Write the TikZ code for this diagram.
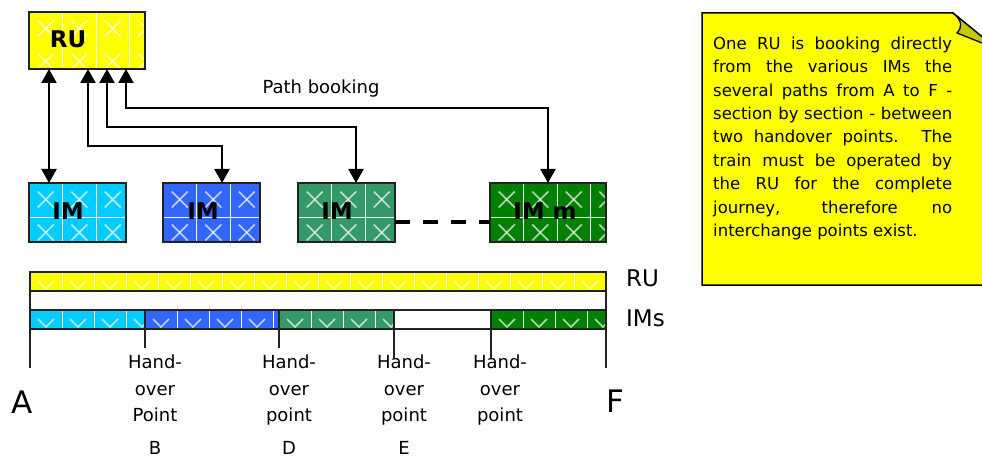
\documentclass[tikz,border=0pt]{standalone}
\usepackage{fontspec}
\setmainfont{DejaVu Sans}
\usetikzlibrary{arrows.meta,calc}
\definecolor{ruyel}{HTML}{FFFF00}
\definecolor{imcyan}{HTML}{00CCFF}
\definecolor{imblue}{HTML}{3366FF}
\definecolor{imsea}{HTML}{339966}
\definecolor{imgreen}{HTML}{008000}
\definecolor{foldc}{HTML}{C8C800}
\definecolor{edgec}{HTML}{222222}
\newcommand\boxpat[5]{%
  \begin{scope}
    \clip (#1,#2) rectangle (#3,#4);
    \foreach \k in {1,2,3,4}{\draw[gridln] ({#1+33.5*\k},#2) -- ({#1+33.5*\k},#4);}
    \ifnum#5=1 \draw[gridln] (#1,{#2+34}) -- (#3,{#2+34});\fi
    \foreach \k in {0,...,4}{\foreach \j in {0,1}{
      \draw[crossln] ({#1+16.75+33.5*\k-8},{#2+16.5+33*\j-8}) -- ++(16,16);
      \draw[crossln] ({#1+16.75+33.5*\k+8},{#2+16.5+33*\j-8}) -- ++(-16,16);}}
  \end{scope}}
\newcommand\barpat[4]{%
  \begin{scope}
    \clip (#1,#2) rectangle (#3,#4);
    \foreach \k in {1,...,18}{\draw[gridln] ({#1+32*\k},#2) -- ({#1+32*\k},#4);}
    \foreach \k in {0,...,18}{\draw[crossln] ({#1+16+32*\k-8},{#2+9}) -- ++(8,8) -- ++(8,-8);}
  \end{scope}}
\begin{document}
\begin{tikzpicture}[x=1pt,y=-1pt,
  gridln/.style={white,line width=1pt},
  crossln/.style={white,opacity=0.7,line width=1.6pt},
  boxnode/.style={inner sep=0pt,outer sep=0pt,draw=none},
  boxedge/.style={draw=edgec,line width=1.4pt},
  boldlbl/.style={inner sep=0pt,font=\fontsize{23}{27}\selectfont\bfseries},
  conn/.style={line width=2.2pt,{Triangle[length=14pt,width=15pt]}-{Triangle[length=14pt,width=15pt]}},
  plain18/.style={inner sep=0pt,font=\fontsize{18}{26.5}\selectfont},
  framel/.style={draw=edgec,line width=1.4pt},
]
\useasboundingbox (0,0) rectangle (982,457);

% ---------- RU box ----------
\node[boxnode,fill=ruyel,minimum width=116pt,minimum height=57pt] (ru) at (87,40.5) {};
\boxpat{29}{12}{145}{69}{0}
\draw[boxedge] (ru.south west) rectangle (ru.north east);
\node[boldlbl] (rulbl) at (68,39) {RU};

% ---------- IM boxes ----------
\node[boxnode,fill=imcyan,minimum width=97pt,minimum height=59pt] (im1) at (77.5,212.5) {};
\boxpat{29}{183}{126}{242}{1}
\draw[boxedge] (im1.south west) rectangle (im1.north east);
\node[boldlbl] (im1lbl) at (68,211) {IM};

\node[boxnode,fill=imblue,minimum width=97pt,minimum height=59pt] (im2) at (211.5,212.5) {};
\boxpat{163}{183}{260}{242}{1}
\draw[boxedge] (im2.south west) rectangle (im2.north east);
\node[boldlbl] (im2lbl) at (203,211) {IM};

\node[boxnode,fill=imsea,minimum width=97pt,minimum height=59pt] (im3) at (346.5,212.5) {};
\boxpat{298}{183}{395}{242}{1}
\draw[boxedge] (im3.south west) rectangle (im3.north east);
\node[boldlbl] (im3lbl) at (337,211) {IM};

\node[boxnode,fill=imgreen,minimum width=116pt,minimum height=59pt] (imm) at (548,212.5) {};
\boxpat{490}{183}{606}{242}{1}
\draw[boxedge] (imm.south west) rectangle (imm.north east);
\node[boldlbl] (immlbl) at (545,211) {IM m};

\draw[line width=4pt,dash pattern=on 15pt off 13pt] (im3.east |- 0,222) -- (imm.west |- 0,222);

% ---------- connectors ----------
\draw[conn] (49,0 |- ru.south) -- (49,0 |- im1.north);
\draw[conn] (88,0 |- ru.south) |- (222,146) -- (222,0 |- im2.north);
\draw[conn] (107,0 |- ru.south) |- (356,127) -- (356,0 |- im3.north);
\draw[conn] (126,0 |- ru.south) |- (548,108) -- (imm.north);
\node[plain18] (pathlbl) at (321,89) {Path booking};

% ---------- bars ----------
\draw[framel] (30,272) -- (30,368);
\draw[framel] (606,272) -- (606,368);
\fill[ruyel] (30,272) rectangle (606,291);
\barpat{30}{272}{606}{291}
\draw[framel] (30,272) rectangle (606,291);

\fill[imcyan] (30,310) rectangle (145,329);
\barpat{30}{310}{145}{329}
\fill[imblue] (145,310) rectangle (279,329);
\barpat{145}{310}{279}{329}
\fill[imsea] (279,310) rectangle (394,329);
\barpat{279}{310}{394}{329}
\fill[imgreen] (491,310) rectangle (606,329);
\barpat{491}{310}{606}{329}
\foreach \a/\b in {30/145,145/279,279/394,394/491,491/606}{\draw[framel] (\a,310) rectangle (\b,329);}

\draw[framel] (145,329) -- (145,348);
\draw[framel] (279,329) -- (279,348);
\draw[framel] (394,329) -- (394,358);
\draw[framel] (491,329) -- (491,358);

\node[inner sep=0pt,font=\fontsize{23}{27}\selectfont,anchor=west] (rubar) at (626,278) {RU};
\node[inner sep=0pt,font=\fontsize{23}{27}\selectfont,anchor=west] (imbar) at (626,318) {IMs};

% ---------- bottom labels ----------
\node[inner sep=0pt,font=\fontsize{31}{35}\selectfont] (ptA) at (22,402) {A};
\node[inner sep=0pt,font=\fontsize{31}{35}\selectfont] (ptF) at (615,401) {F};
\node[plain18,align=center,anchor=north] (hoB) at (155,355) {Hand-\\over\\Point};
\node[plain18,align=center,anchor=north] (hoD) at (289,355) {Hand-\\over\\point};
\node[plain18,align=center,anchor=north] (hoE) at (404,355) {Hand-\\over\\point};
\node[plain18,align=center,anchor=north] (hoM) at (500,355) {Hand-\\over\\point};
\node[plain18] (lB) at (155,448) {B};
\node[plain18] (lD) at (289,448) {D};
\node[plain18] (lE) at (404,448) {E};

% ---------- note ----------
\draw[fill=ruyel,draw=black,line width=1.5pt] (702,13) -- (953,13) -- (992,45) -- (992,285) -- (702,285) -- cycle;
\draw[fill=foldc,draw=black,line width=1.3pt,line join=round] (953,13) .. controls (963,21) and (962,28) .. (957,33) -- (992,47) -- (992,45) -- cycle;
\node[inner sep=0pt,anchor=north west,align=left,font=\fontsize{16.5}{23.4}\selectfont] (note) at (713,36.5) {%
\makebox[239pt][s]{One RU is booking directly}\\
\makebox[239pt][s]{from the various IMs the}\\
\makebox[239pt][s]{several paths from A to F -}\\
\makebox[239pt][s]{section by section - between}\\
\makebox[239pt][s]{two handover points. The}\\
\makebox[239pt][s]{train must be operated by}\\
\makebox[239pt][s]{the RU for the complete}\\
\makebox[239pt][s]{journey, therefore no}\\
interchange points exist.};
\end{tikzpicture}
\end{document}
